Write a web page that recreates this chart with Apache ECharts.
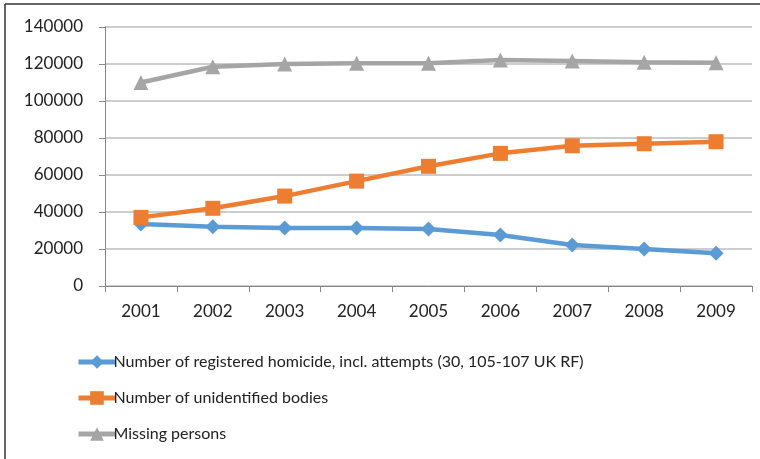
<!DOCTYPE html>
<html>
<head>
<meta charset="utf-8"/>
<title>Homicide, unidentified bodies and missing persons</title>
<script src="https://cdn.jsdelivr.net/npm/echarts@6/dist/echarts.min.js"></script>
<style>
	* { margin: 0; padding: 0; }
	body { background: #fff; }
	#chart { width: 760px; height: 459px; }
</style>
</head>
<body>
<div id="chart"></div>
<script>
	// values
	var years = ['2001', '2002', '2003', '2004', '2005', '2006', '2007', '2008', '2009'];
	var homicides = [33500, 32000, 31400, 31400, 30800, 27600, 22200, 20000, 17700];
	var unidentified = [37100, 42000, 48600, 56700, 64700, 71700, 75800, 76900, 78000];
	var missing = [110000, 118500, 120000, 120400, 120400, 122200, 121600, 120900, 120700];
	var names = [
		'Number of registered homicide, incl. attempts (30, 105-107 UK RF)',
		'Number of unidentified bodies',
		'Missing persons'
	];

	var font = 'Lato, "Open Sans", sans-serif';

	function makeSeries(name, data, color, symbol, size) {
		return {
			name: name,
			type: 'line',
			data: data,
			symbol: symbol,
			symbolSize: size,
			showAllSymbol: true,
			lineStyle: { color: color, width: 4.5 },
			itemStyle: { color: color },
			emphasis: { disabled: true }
		};
	}

	var chart = echarts.init(document.getElementById('chart'), null, { renderer: 'canvas' });
	chart.setOption({
		animation: false,
		grid: { left: 105, top: 27, right: 8, bottom: 173, containLabel: false },
		legend: {
			orient: 'vertical',
			left: 71,
			top: 349,
			itemGap: 20,
			itemWidth: 37,
			itemHeight: 17,
			lineStyle: { width: 5 },
			textStyle: { fontFamily: font, fontSize: 16, color: '#222', padding: [0, 0, 0, -7] },
			data: names
		},
		xAxis: {
			type: 'category',
			data: years,
			boundaryGap: true,
			axisLine: { lineStyle: { color: '#888', width: 1 } },
			axisTick: { show: true, length: 6, lineStyle: { color: '#888' } },
			axisLabel: { fontFamily: font, fontSize: 17, color: '#222', margin: 17 }
		},
		yAxis: {
			type: 'value',
			min: 0,
			max: 140000,
			interval: 20000,
			axisLine: { show: true, lineStyle: { color: '#888', width: 1 } },
			axisTick: { show: true, length: 6, lineStyle: { color: '#888' } },
			axisLabel: {
				fontFamily: font, fontSize: 17, color: '#222', margin: 22,
				formatter: function (v) { return String(v); }
			},
			splitLine: { lineStyle: { color: '#bdbdbd', width: 1.5 } }
		},
		series: [
			makeSeries(names[0], homicides, '#5b9bd5', 'diamond', 15),
			makeSeries(names[1], unidentified, '#ed7d31', 'rect', 15),
			makeSeries(names[2], missing, '#a5a5a5', 'triangle', 15)
		],
		graphic: [
			{ type: 'line', shape: { x1: 5, y1: 4, x2: 760, y2: 4 }, style: { stroke: '#333', lineWidth: 1.5 } },
			{ type: 'line', shape: { x1: 5, y1: 4, x2: 5, y2: 459 }, style: { stroke: '#333', lineWidth: 1.5 } }
		]
	});
</script>
</body>
</html>
